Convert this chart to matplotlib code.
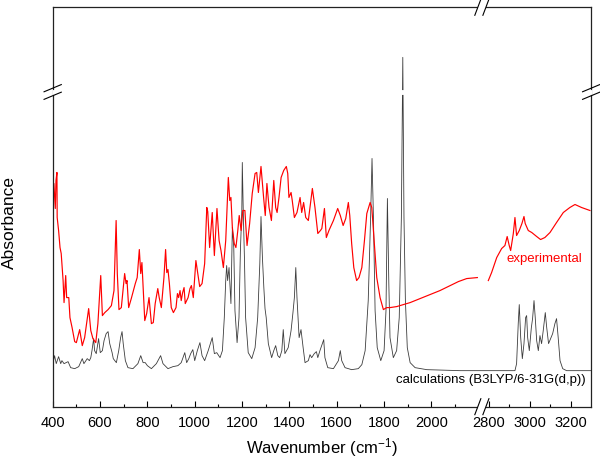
import numpy as np
import matplotlib
matplotlib.use('Agg')
import matplotlib.pyplot as plt

plt.rcParams['font.family'] = 'Liberation Sans'
plt.rcParams['mathtext.fontset'] = 'custom'
plt.rcParams['mathtext.rm'] = 'Liberation Sans'
plt.rcParams['mathtext.default'] = 'regular'

# Experimental spectrum, 400-2200 cm-1 part
exp_left_wn = [401, 405, 411, 414, 418, 419, 425, 431, 436, 444, 448, 455, 459, 468, 473,
               482, 493, 500, 514, 525, 535, 552, 561, 570, 582, 591, 603, 610, 620, 634,
               648, 659, 668, 673, 680, 690, 704, 710, 714, 721, 732, 749, 757, 766, 772,
               777, 783, 789, 797, 807, 817, 825, 833, 844, 850, 859, 870, 877, 882, 887,
               893, 901, 910, 921, 927, 932, 938, 943, 949, 955, 960, 972, 980, 986, 994,
               1005, 1011, 1021, 1031, 1042, 1051, 1055, 1063, 1074, 1083, 1094, 1103, 1111,
               1121, 1131, 1142, 1148, 1153, 1159, 1167, 1174, 1182, 1188, 1196, 1203, 1212,
               1221, 1232, 1243, 1255, 1262, 1269, 1280, 1291, 1298, 1305, 1314, 1324, 1334,
               1342, 1348, 1356, 1365, 1376, 1387, 1393, 1398, 1407, 1412, 1421, 1432, 1445,
               1452, 1460, 1469, 1480, 1497, 1508, 1520, 1531, 1537, 1548, 1556, 1567, 1586,
               1604, 1615, 1627, 1638, 1649, 1655, 1663, 1672, 1684, 1694, 1706, 1717, 1727,
               1741, 1748, 1758, 1769, 1783, 1797, 1811, 1825, 1853, 1881, 1910, 1952, 1994,
               2036, 2079, 2114, 2149, 2194]
exp_left_abs = [2.16, 2.23, 1.98, 2.26, 2.34, 1.89, 1.76, 1.59, 1.53, 1.26, 1.04, 1.31, 1.09, 1.09, 0.89,
                0.79, 0.65, 0.64, 0.77, 0.61, 0.69, 0.98, 0.76, 0.68, 0.64, 0.83, 1.31, 0.91, 0.94, 0.97,
                1.01, 1.16, 1.86, 1.33, 0.97, 0.99, 1.33, 1.23, 1.26, 0.99, 1.08, 1.23, 1.29, 1.57, 1.33,
                1.44, 1.16, 0.86, 0.93, 1.09, 0.83, 0.84, 1.03, 1.18, 1.09, 0.99, 1.29, 1.57, 1.34, 1.37,
                1.23, 0.99, 0.94, 0.99, 1.13, 1.09, 1.16, 1.06, 1.14, 1.19, 1.03, 1.09, 1.18, 1.21, 1.09,
                1.46, 1.36, 1.20, 1.23, 1.43, 1.99, 1.95, 1.59, 1.94, 1.51, 1.98, 1.66, 1.56,
                1.39, 1.66, 2.29, 2.06, 2.09, 1.79, 1.63, 1.59, 1.76, 1.91, 1.76, 1.96, 1.96,
                1.61, 1.83, 2.13, 2.33, 2.34, 2.14, 2.40, 2.09, 1.91, 2.23, 1.99, 1.86, 2.26,
                1.99, 1.94, 2.09, 2.29, 2.36, 2.40, 2.33, 2.09, 2.14, 2.06, 1.89, 1.94, 2.09,
                1.94, 2.04, 1.89, 1.86, 2.18, 1.99, 1.73, 1.76, 1.78, 1.98, 1.69, 1.76, 1.86,
                1.98, 1.91, 1.81, 1.88, 2.04, 1.91, 1.63, 1.39, 1.26, 1.29, 1.39, 1.66, 1.93,
                2.04, 1.99, 1.66, 1.29, 1.09, 0.97, 0.99, 0.99, 1.00, 1.02, 1.04, 1.08, 1.12,
                1.16, 1.21, 1.25, 1.28, 1.29]

# Experimental spectrum, 2790-3300 cm-1 part
exp_right_wn = [2798, 2814, 2839, 2863, 2879, 2890, 2900, 2907, 2920, 2928, 2936, 2949, 2962, 2972,
                2978, 2993, 3010, 3034, 3053, 3074, 3099, 3131, 3164, 3196, 3221, 3253, 3294]
exp_right_abs = [1.26, 1.34, 1.49, 1.58, 1.61, 1.70, 1.61, 1.56, 1.73, 1.89, 1.71, 1.76, 1.83, 1.90,
                 1.83, 1.76, 1.74, 1.70, 1.67, 1.69, 1.74, 1.84, 1.94, 1.99, 2.02, 1.99, 1.96]

# Calculated spectrum B3LYP/6-31G(d,p)
calc_wn = [401, 408, 415, 425, 434, 439, 448, 465, 476, 493, 510, 525, 532, 546, 555, 561, 566, 573,
           577, 584, 594, 601, 610, 617, 626, 634, 641, 651, 656, 669, 679, 687, 693, 698, 707, 718,
           739, 760, 772, 782, 791, 800, 817, 838, 856, 866, 887, 908, 929, 943, 958, 966, 975, 983,
           992, 1000, 1011, 1022, 1031, 1042, 1057, 1074, 1083, 1093, 1107, 1117, 1125, 1131, 1135,
           1139, 1145, 1153, 1159, 1165, 1170, 1179, 1187, 1193, 1199, 1201, 1205, 1210, 1215, 1226,
           1241, 1255, 1266, 1275, 1280, 1286, 1292, 1297, 1302, 1311, 1325, 1334, 1342, 1351, 1359,
           1368, 1374, 1381, 1395, 1407, 1415, 1421, 1427, 1432, 1441, 1449, 1458, 1466, 1480, 1487,
           1494, 1505, 1514, 1520, 1529, 1539, 1545, 1550, 1562, 1586, 1607, 1615, 1621, 1635, 1663,
           1691, 1706, 1720, 1733, 1743, 1749, 1755, 1762, 1771, 1786, 1800, 1808, 1814, 1820, 1825,
           1839, 1853, 1864, 1873, 1879, 1884, 1890, 1898, 1910, 1931, 1980, 2121, 2200,
           2790, 2928, 2936, 2944, 2949, 2956, 2964, 2972, 2980, 2985, 2990, 2998, 3008, 3014, 3021,
           3027, 3034, 3042, 3050, 3058, 3066, 3076, 3083, 3092, 3102, 3112, 3123, 3131, 3139, 3148,
           3161, 3180, 3300]
calc_abs = [0.43, 0.51, 0.43, 0.50, 0.43, 0.46, 0.43, 0.45, 0.39, 0.38, 0.40, 0.48, 0.43, 0.48, 0.46, 0.49, 0.56, 0.68,
            0.56, 0.53, 0.68, 0.54, 0.56, 0.66, 0.73, 0.75, 0.63, 0.54, 0.48, 0.44, 0.56, 0.69, 0.75, 0.63, 0.46, 0.39,
            0.38, 0.43, 0.51, 0.44, 0.44, 0.41, 0.38, 0.43, 0.51, 0.43, 0.38, 0.40, 0.41, 0.44, 0.54, 0.44, 0.48, 0.53,
            0.57, 0.46, 0.56, 0.64, 0.51, 0.46, 0.56, 0.69, 0.53, 0.54, 0.49, 0.56, 0.89, 1.26, 1.41,
            1.26, 1.39, 1.03, 1.79, 1.59, 0.96, 0.64, 0.89, 1.56, 1.96, 2.44, 1.96, 1.49, 0.89, 0.54,
            0.48, 0.59, 0.89, 1.43, 1.90, 1.49, 1.19, 0.98, 0.89, 0.63, 0.49, 0.56, 0.61, 0.51, 0.49,
            0.56, 0.77, 0.53, 0.59, 0.76, 0.94, 1.09, 1.39, 1.09, 0.69, 0.77, 0.59, 0.44, 0.46, 0.52,
            0.49, 0.53, 0.55, 0.49, 0.56, 0.63, 0.67, 0.49, 0.39, 0.38, 0.46, 0.56, 0.46, 0.39, 0.37,
            0.38, 0.42, 0.56, 1.06, 1.89, 2.48, 1.89, 0.96, 0.59, 0.46, 0.56, 0.96, 2.08, 1.23, 0.69,
            0.49, 0.56, 0.89, 1.89, 3.49, 1.89, 1.06, 0.59, 0.44, 0.39, 0.37, 0.36, 0.36,
            0.36, 0.36, 0.43, 0.83, 1.02, 0.69, 0.48, 0.63, 0.89, 0.91, 0.69, 0.56, 0.79, 0.88, 1.06,
            0.89, 0.66, 0.56, 0.71, 0.63, 0.76, 0.94, 0.79, 0.63, 0.68, 0.73, 0.83, 0.88, 0.69, 0.46,
            0.38, 0.36, 0.36]

major_ticks = [400, 600, 800, 1000, 1200, 1400, 1600, 1800, 2000, 2800, 3000, 3200]
minor_ticks = [500, 700, 900, 1100, 1300, 1500, 1700, 1900, 2100, 2900, 3100]

# broken wavenumber axis: 400-2200 and 2790-3300 squeezed together
brk_wn = [0, 400, 2200, 2790, 3300, 5000]
brk_pos = [-94.7, 0, 426.1, 434.0, 538.5, 887.0]


def fwd(x):
    return np.interp(x, brk_wn, brk_pos)


def inv(p):
    return np.interp(p, brk_pos, brk_wn)


fig = plt.figure(figsize=(6, 4.65), dpi=100)
ax = fig.add_axes([0.0878, 0.1254, 0.8975, 0.8589])
ax.set_xscale('function', functions=(fwd, inv))

ax.plot(calc_wn, calc_abs, color='#3c3c3c', lw=0.6)
ax.plot(exp_left_wn, exp_left_abs, color='#ff0000', lw=0.85)
ax.plot(exp_right_wn, exp_right_abs, color='#ff0000', lw=0.85)

ax.set_xlim(400, 3300)
ax.set_ylim(0, 3.99)
ax.set_xticks(major_ticks)
ax.set_xticklabels([str(t) for t in major_ticks])
ax.set_xticks(minor_ticks, minor=True)
ax.set_yticks([])
ax.tick_params(axis='x', which='major', direction='in', length=4.5, width=0.8,
               labelsize=10.5, pad=7)
ax.tick_params(axis='x', which='minor', direction='in', length=2.5, width=0.8)
for sp in ax.spines.values():
    sp.set_linewidth(0.9)
    sp.set_color('#222222')

ax.set_xlabel('Wavenumber (cm$^{-1}$)', fontsize=12, labelpad=4)
ax.set_ylabel('Absorbance', fontsize=12.5)
ax.yaxis.set_label_coords(-0.066, 0.46)

ax.text(3074, 1.48, 'experimental', color='#ff0000', fontsize=9.5, ha='center', va='center')
ax.text(3271, 0.27, 'calculations (B3LYP/6-31G(d,p))', color='black', fontsize=9.5,
        ha='right', va='center')

# axis break marks
yb = 0.788
xb = 0.797
ax.plot([-0.002, 1.002], [yb, yb], transform=ax.transAxes, color='white', lw=3.5,
        clip_on=False, zorder=5, solid_capstyle='butt')
ax.plot([xb - 0.008, xb + 0.008], [1, 1], transform=ax.transAxes, color='white', lw=3,
        clip_on=False, zorder=5, solid_capstyle='butt')
ax.plot([xb - 0.008, xb + 0.008], [0, 0], transform=ax.transAxes, color='white', lw=3,
        clip_on=False, zorder=5, solid_capstyle='butt')
for x0 in (0, 1):
    for s in (-1, 1):
        ax.plot([x0 - 0.016, x0 + 0.016], [yb + s * 0.0095 - 0.009, yb + s * 0.0095 + 0.009],
                transform=ax.transAxes, color='black', lw=0.8, clip_on=False, zorder=6)
for y0 in (0, 1):
    for s in (-1, 1):
        ax.plot([xb + s * 0.0075 - 0.0056, xb + s * 0.0075 + 0.0056], [y0 - 0.02, y0 + 0.02],
                transform=ax.transAxes, color='black', lw=0.8, clip_on=False, zorder=6)

fig.savefig('out.png', dpi=100)
